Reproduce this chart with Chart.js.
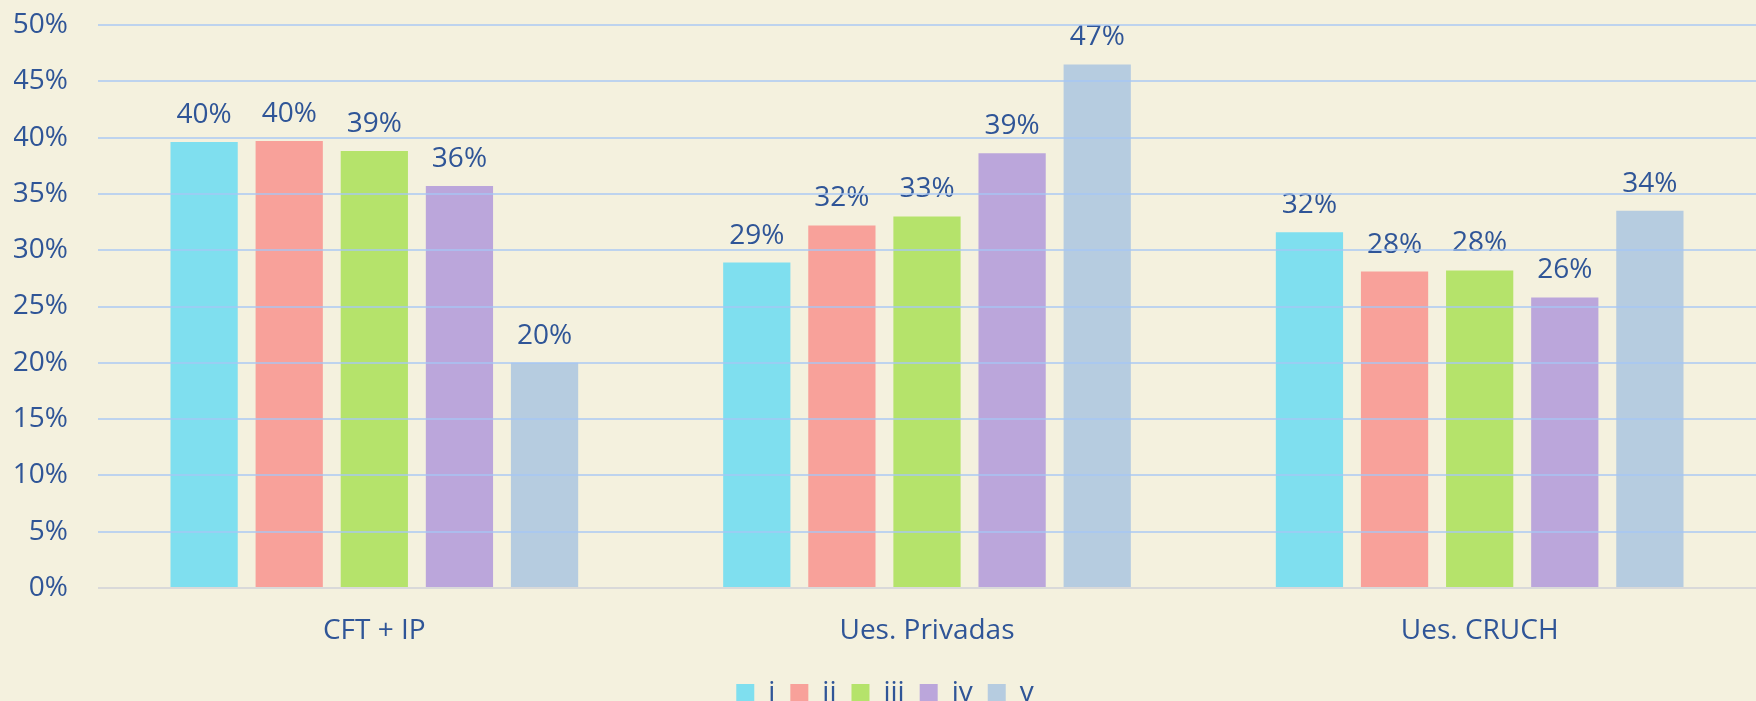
<!DOCTYPE html>
<html>
<head>
<meta charset="utf-8">
<script src="https://cdn.jsdelivr.net/npm/chart.js@4"></script>
<style>
    html, body { margin: 0; padding: 0; background: #F4F1DE; overflow: hidden; }
    #chart { display: block; }
</style>
</head>
<body>
<canvas id="chart" width="1756" height="717"></canvas>
<script>
// ── Data ──
const categories = ["CFT + IP", "Ues. Privadas", "Ues. CRUCH"];
const seriesNames = ["i", "ii", "iii", "iv", "v"];
const seriesI   = [39.6, 28.9, 31.6];
const seriesII  = [39.7, 32.2, 28.1];
const seriesIII = [38.8, 33.0, 28.2];
const seriesIV  = [35.7, 38.6, 25.8];
const seriesV   = [20.0, 46.5, 33.5];
const yTicks = [0, 5, 10, 15, 20, 25, 30, 35, 40, 45, 50];

const seriesValues = [seriesI, seriesII, seriesIII, seriesIV, seriesV];
const seriesColors = ["#7FDFEF", "#F8A19A", "#B5E36B", "#BBA6DB", "#B6CCE0"];

const textBlue = "#2F5597";
const fontFamily = "'Open Sans', 'Noto Sans', sans-serif";
const fontSize = 28;

// ── Value labels above the bars ──
const barLabels = {
    id: "barLabels",
    afterDatasetsDraw(chart) {
        const ctx = chart.ctx;
        ctx.save();
        ctx.font = fontSize + "px " + fontFamily;
        ctx.fillStyle = textBlue;
        ctx.textAlign = "center";
        ctx.textBaseline = "alphabetic";
        chart.data.datasets.forEach((ds, i) => {
            chart.getDatasetMeta(i).data.forEach((bar, j) => {
                ctx.fillText(Math.round(ds.data[j]) + "%", bar.x, bar.y - 19);
            });
        });
        ctx.restore();
    }
};

new Chart(document.getElementById("chart"), {
    type: "bar",
    data: {
        labels: categories,
        datasets: seriesNames.map((name, i) => ({
            label: name,
            data: seriesValues[i],
            backgroundColor: seriesColors[i],
            borderWidth: 0,
            categoryPercentage: 0.77,
            barPercentage: 0.79
        }))
    },
    options: {
        responsive: false,
        animation: false,
        layout: { padding: { top: 25, left: 14, right: 0, bottom: 0 } },
        scales: {
            x: {
                afterFit: s => { s.height = 76; },
                grid: { display: false, drawTicks: false },
                border: { display: false },
                ticks: {
                    color: textBlue,
                    font: { size: fontSize, family: fontFamily },
                    padding: 26
                }
            },
            y: {
                min: 0,
                max: 50,
                afterBuildTicks: axis => { axis.ticks = yTicks.map(v => ({ value: v })); },
                afterFit: s => { s.width = 84; s.paddingTop = 0; s.paddingBottom = 0; },
                grid: {
                    z: 1,
                    lineWidth: 2,
                    drawTicks: false,
                    color: c => c.tick && c.tick.value === 0 ? "#D9D9D9" : "rgba(165, 198, 245, 0.7)"
                },
                border: { display: false },
                ticks: {
                    color: textBlue,
                    font: { size: fontSize, family: fontFamily },
                    padding: 30,
                    callback: v => v + "%"
                }
            }
        },
        plugins: {
            legend: {
                position: "bottom",
                labels: {
                    boxWidth: 18,
                    boxHeight: 18,
                    padding: 15,
                    color: textBlue,
                    font: { size: fontSize, family: fontFamily }
                }
            },
            tooltip: { enabled: false }
        }
    },
    plugins: [barLabels]
});
</script>
</body>
</html>
